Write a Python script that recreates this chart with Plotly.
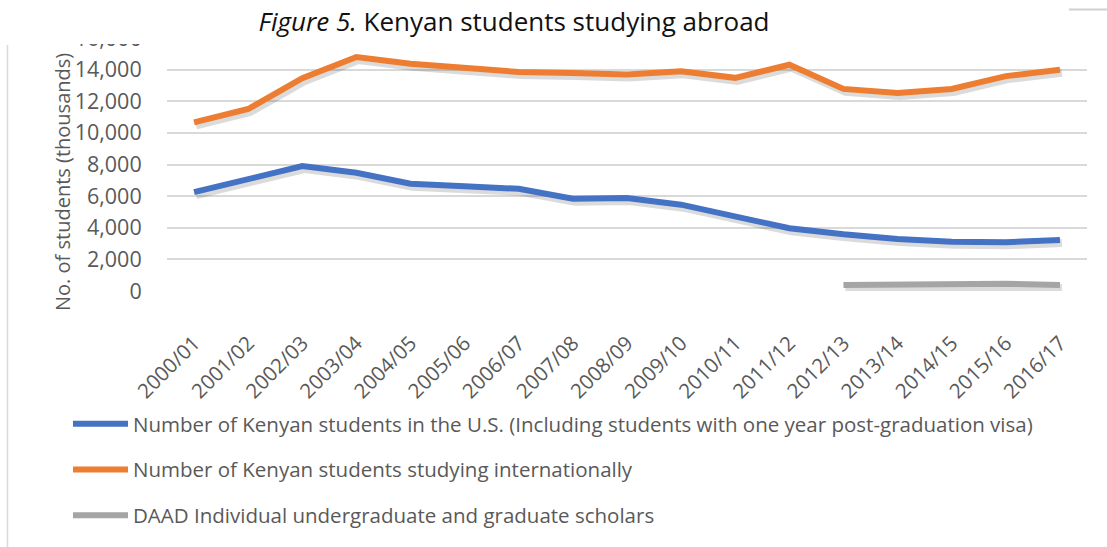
import plotly.graph_objects as go

categories = ["2000/01", "2001/02", "2002/03", "2003/04", "2004/05", "2005/06",
              "2006/07", "2007/08", "2008/09", "2009/10", "2010/11", "2011/12",
              "2012/13", "2013/14", "2014/15", "2015/16", "2016/17"]
us_students = [6250, 7100, 7900, 7480, 6780, 6620, 6460, 5840, 5880, 5460,
               4720, 3970, 3590, 3290, 3120, 3080, 3230]
intl_students = [10660, 11510, 13460, 14800, 14370, 14100, 13850, 13780, 13690,
                 13900, 13480, 14310, 12780, 12530, 12780, 13590, 13990]
daad_scholars = [None, None, None, None, None, None, None, None, None, None,
                 None, None, 380, 400, 430, 460, 380]
series_names = [
    "Number of Kenyan students in the U.S. (Including students with one year post-graduation visa)",
    "Number of Kenyan students studying internationally",
    "DAAD Individual undergraduate and graduate scholars",
]
y_ticks = [0, 2000, 4000, 6000, 8000, 10000, 12000, 14000, 16000]

colors = ["#4472C4", "#ED7D31", "#A5A5A5"]
FONT = "Open Sans"
TXT = "#595959"

W, H = 1107, 547
ML, MR, MT, MB = 167, 20, 38, 256
PW = W - ML - MR
PH = H - MT - MB


def px(x):
    return (x - ML) / PW


def py(y):
    return (H - MB - y) / PH


series = [us_students, intl_students, daad_scholars]
ymax = 16000
dy_units = 3 * ymax / PH          # shadow offset 3px down
dx_units = 2 / (PW / len(categories))  # shadow offset 2px right

fig = go.Figure()
for vals in series:
    fig.add_trace(go.Scatter(
        x=categories, y=vals, mode="lines",
        line=dict(color="rgba(0,0,0,0.14)", width=8),
        xaxis="x", yaxis="y", showlegend=False, hoverinfo="skip"))
for name, vals, c in zip(series_names, series, colors):
    fig.add_trace(go.Scatter(
        x=categories, y=vals, name=name, mode="lines",
        line=dict(color=c, width=6),
        xaxis="x2", yaxis="y2", legendgroup=name))

fig.update_layout(
    width=W, height=H,
    margin=dict(l=ML, r=MR, t=MT, b=MB, autoexpand=False),
    paper_bgcolor="white", plot_bgcolor="white",
    font=dict(family=FONT, color=TXT),
    showlegend=True,
    title=dict(text="<i>Figure 5.</i> Kenyan students studying abroad",
               font=dict(family=FONT, size=26, color="#111111"),
               x=514 / W, xanchor="center", xref="container",
               y=1 - 22 / H, yanchor="middle", yref="container"),
    xaxis=dict(type="category", categoryarray=categories, categoryorder="array",
               range=[-0.5 - dx_units, len(categories) - 0.5 - dx_units],
               visible=False, fixedrange=True),
    yaxis=dict(range=[dy_units, ymax + dy_units], visible=False, fixedrange=True),
    xaxis2=dict(type="category", categoryarray=categories, categoryorder="array",
                overlaying="x", side="bottom",
                range=[-0.5, len(categories) - 0.5],
                tickangle=-45, ticks="outside", ticklen=31,
                tickcolor="rgba(0,0,0,0)",
                tickfont=dict(family=FONT, size=20.5, color=TXT),
                showgrid=False, showline=False, zeroline=False),
    yaxis2=dict(overlaying="y", side="left", range=[0, ymax],
                tickvals=y_ticks, tickformat=",",
                ticks="outside", ticklen=20, tickcolor="rgba(0,0,0,0)",
                tickfont=dict(family=FONT, size=21.5, color=TXT),
                showgrid=True, gridcolor="#D9D9D9", gridwidth=1.5,
                zeroline=False, showline=False),
    legend=dict(orientation="v", x=px(68), y=py(404),
                xanchor="left", yanchor="top", itemwidth=55,
                font=dict(family=FONT, size=20.5, color=TXT),
                tracegroupgap=16, bgcolor="rgba(0,0,0,0)"),
    annotations=[dict(text="No. of students (thousands)", textangle=-90,
                      x=px(62), y=py(182), xref="paper", yref="paper",
                      xanchor="center", yanchor="middle", showarrow=False,
                      font=dict(family=FONT, size=20, color=TXT))],
    shapes=[
        dict(type="rect", xref="paper", yref="paper",
             x0=px(0), x1=px(1069), y0=py(44), y1=py(0),
             fillcolor="white", line=dict(width=0), layer="above"),
        dict(type="line", xref="paper", yref="paper",
             x0=px(7.5), x1=px(7.5), y0=py(547), y1=py(45),
             line=dict(color="#D9D9D9", width=1.5), layer="above"),
        dict(type="line", xref="paper", yref="paper",
             x0=px(1069), x1=px(1107), y0=py(9.5), y1=py(9.5),
             line=dict(color="#D0D0D0", width=2), layer="above"),
    ],
)

fig.write_html("out.html",
               config={"displayModeBar": False},
               post_script="document.body.style.margin='0';"
                           "document.body.style.overflow='hidden';")
